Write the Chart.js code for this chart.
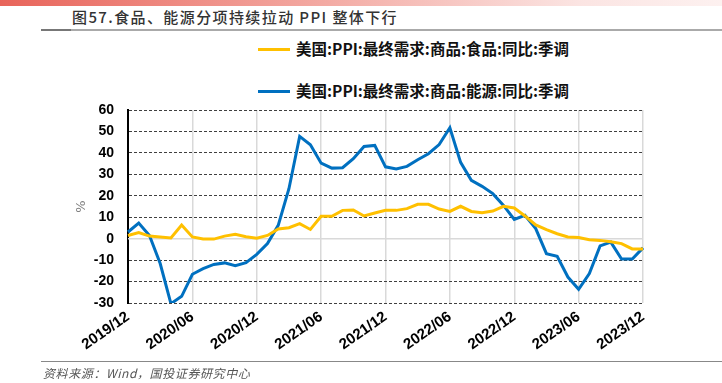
<!DOCTYPE html>
<html>
<head>
<meta charset="utf-8">
<script src="https://cdn.jsdelivr.net/npm/chart.js@4.4.1/dist/chart.umd.min.js"></script>
<style>
    body { margin: 0; width: 722px; height: 383px; overflow: hidden; background: #fff; position: relative; font-family: "Noto Sans CJK SC", sans-serif; }
    #topbar { position: absolute; left: 0; top: 0; width: 722px; height: 6px; background: linear-gradient(to right, #e8645a, #f3aaa3 45%, #fbe4e2 80%, #fdf1f0); }
    #title { position: absolute; left: 72px; top: 6px; font-size: 15px; font-weight: 500; color: #333; letter-spacing: 1.4px; white-space: nowrap; }
    #titleline { position: absolute; left: 41px; top: 29px; width: 681px; height: 2px; background: linear-gradient(to right, #777 0, #777 30px, #aaa 30px); }
    .leg { position: absolute; left: 258px; font-size: 15.5px; font-weight: 700; color: #111; white-space: nowrap; }
    .leg i { display: inline-block; width: 32px; height: 3px; vertical-align: middle; margin-right: 6px; position: relative; top: -1px; }
    #source { position: absolute; left: 43px; top: 364px; font-size: 12px; font-style: italic; color: #555; letter-spacing: 0.6px; white-space: nowrap; }
    #footline { position: absolute; left: 41px; top: 361px; width: 681px; height: 1px; background: #888; }
    #wrap { position: absolute; left: 0; top: 0; width: 722px; height: 383px; }
</style>
</head>
<body>
<div id="topbar"></div>
<div id="title">图57.食品、能源分项持续拉动 PPI 整体下行</div>
<div id="titleline"></div>
<div class="leg" style="top:37px"><i style="background:#ffc000"></i>美国:PPI:最终需求:商品:食品:同比:季调</div>
<div class="leg" style="top:79px"><i style="background:#0070c0"></i>美国:PPI:最终需求:商品:能源:同比:季调</div>
<div id="wrap"><canvas id="chart" width="722" height="383"></canvas></div>
<div id="footline"></div>
<div id="source">资料来源：Wind，国投证券研究中心</div>
<script>
// 月份 2019/12 - 2023/12
const months = [
    '2019/12', '2020/01', '2020/02', '2020/03', '2020/04', '2020/05', '2020/06',
    '2020/07', '2020/08', '2020/09', '2020/10', '2020/11', '2020/12',
    '2021/01', '2021/02', '2021/03', '2021/04', '2021/05', '2021/06',
    '2021/07', '2021/08', '2021/09', '2021/10', '2021/11', '2021/12',
    '2022/01', '2022/02', '2022/03', '2022/04', '2022/05', '2022/06',
    '2022/07', '2022/08', '2022/09', '2022/10', '2022/11', '2022/12',
    '2023/01', '2023/02', '2023/03', '2023/04', '2023/05', '2023/06',
    '2023/07', '2023/08', '2023/09', '2023/10', '2023/11', '2023/12'
];
// 只显示每半年的刻度
const tickMonths = ['2019/12', '2020/06', '2020/12', '2021/06', '2021/12', '2022/06', '2022/12', '2023/06', '2023/12'];

const foodLabel = '美国:PPI:最终需求:商品:食品:同比:季调';
const energyLabel = '美国:PPI:最终需求:商品:能源:同比:季调';

const food = [
    1.5, 2.8, 1.2, 0.8, 0.3, 6.4, 0.8, -0.2, -0.2, 1.2, 2.0, 0.9, 0.2,
    1.5, 4.5, 5.1, 7.0, 4.3, 10.4, 10.4, 13.2, 13.4, 10.6, 12.0, 13.2,
    13.2, 14.0, 16.0, 16.0, 13.8, 12.7, 15.1, 12.7, 12.1, 12.9, 15.1, 14.3,
    10.6, 6.4, 4.2, 2.3, 0.8, 0.5, -0.5, -0.8, -1.4, -2.3, -4.8, -4.8
];
const energy = [
    3.1, 7.3, 1.5, -11.6, -30.3, -26.9, -16.6, -14.0, -12.0, -11.3, -12.6, -11.2, -7.3,
    -2.3, 6.2, 23.3, 47.7, 43.8, 35.2, 32.9, 33.1, 37.3, 43.0, 43.5, 33.5,
    32.5, 33.7, 36.8, 39.6, 43.9, 51.7, 35.6, 27.2, 24.4, 21.0, 15.5, 9.0,
    10.9, 4.7, -7.0, -8.2, -17.9, -23.6, -16.3, -3.4, -1.6, -9.5, -9.5, -4.3
];

// 0 轴用浅灰实线
const zeroLine = {
    id: 'zeroLine',
    beforeDatasetsDraw(chart) {
        const { ctx, chartArea, scales: { y } } = chart;
        const py = y.getPixelForValue(0);
        ctx.save();
        ctx.strokeStyle = '#d9d9d9';
        ctx.lineWidth = 1.5;
        ctx.beginPath();
        ctx.moveTo(chartArea.left, py);
        ctx.lineTo(chartArea.right, py);
        ctx.stroke();
        ctx.restore();
    }
};

new Chart(document.getElementById('chart'), {
    type: 'line',
    data: {
        labels: months,
        datasets: [
            { label: foodLabel, data: food, borderColor: '#ffc000', backgroundColor: '#ffc000', borderWidth: 3, pointRadius: 0, tension: 0 },
            { label: energyLabel, data: energy, borderColor: '#0070c0', backgroundColor: '#0070c0', borderWidth: 3, pointRadius: 0, tension: 0 }
        ]
    },
    options: {
        responsive: false,
        animation: false,
        layout: { padding: { left: 70, top: 110, right: 79, bottom: 0 } },
        plugins: {
            legend: { display: false },
            tooltip: { enabled: false }
        },
        scales: {
            x: {
                afterFit(scale) { scale.height = 80; },
                grid: {
                    color: ctx => tickMonths.includes(months[ctx.index]) ? '#d9d9d9' : 'rgba(0,0,0,0)',
                    lineWidth: 1.5,
                    drawTicks: false
                },
                border: { display: false },
                ticks: {
                    autoSkip: false,
                    minRotation: 35,
                    maxRotation: 35,
                    padding: 5,
                    color: '#000',
                    font: { family: 'Liberation Sans', size: 15, weight: 'bold' },
                    callback: function (v, i) { return tickMonths.includes(months[i]) ? months[i] : ''; }
                }
            },
            y: {
                min: -30,
                max: 60,
                afterFit(scale) { scale.width = 58; },
                grid: {
                    color: ctx => ctx.tick && ctx.tick.value === 0 ? 'rgba(0,0,0,0)' : '#404040',
                    lineWidth: 1,
                    drawTicks: false
                },
                border: { display: true, color: '#000', width: 2, dash: [3, 2] },
                title: { display: true, text: '%', color: '#808080', font: { family: 'DejaVu Sans', size: 13 } },
                ticks: {
                    stepSize: 10,
                    padding: 14,
                    color: '#000',
                    font: { family: 'Liberation Sans', size: 14, weight: 'bold' }
                }
            }
        }
    },
    plugins: [zeroLine]
});
</script>
</body>
</html>
